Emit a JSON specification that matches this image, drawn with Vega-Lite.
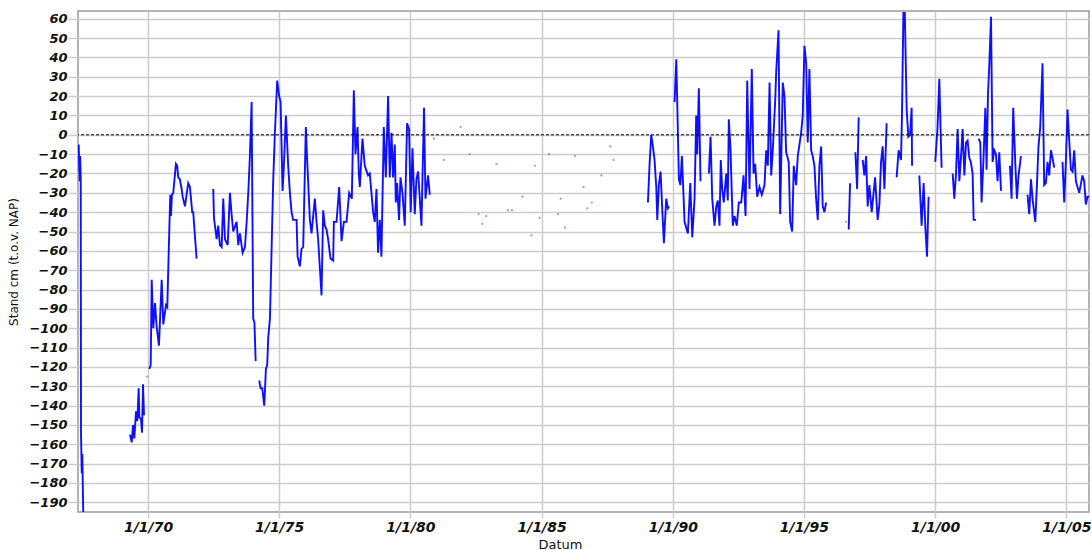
{
  "$schema": "https://vega.github.io/schema/vega-lite/v6.json",
  "width": 1011,
  "height": 501,
  "autosize": {"type": "none"},
  "padding": {"left": 78, "top": 11, "right": 3, "bottom": 38},
  "background": "white",
  "config": {
    "view": {"stroke": "#9a9a9a", "strokeWidth": 1.5},
    "axis": {
      "domain": false,
      "gridColor": "#cccccc",
      "gridWidth": 1.5,
      "tickColor": "#cccccc",
      "tickWidth": 1.5,
      "labelFont": "DejaVu Sans",
      "labelFontWeight": "bold",
      "labelFontStyle": "italic",
      "labelColor": "#111111",
      "titleFont": "DejaVu Sans",
      "titleFontWeight": "normal",
      "titleColor": "#111111"
    }
  },
  "data": {"values": [
    {"d":"1967-05-12","v":-5,"s":1},{"d":"1967-05-20","v":-18,"s":1},{"d":"1967-05-26","v":-24,"s":1},{"d":"1967-05-31","v":-11,"s":1},{"d":"1967-06-09","v":-22,"s":1},{"d":"1967-06-13","v":-155,"s":1},{"d":"1967-06-23","v":-175,"s":1},{"d":"1967-07-01","v":-165,"s":1},{"d":"1967-07-18","v":-205,"s":1},
    {"d":"1969-04-25","v":-155,"s":2},{"d":"1969-05-19","v":-159,"s":2},{"d":"1969-06-06","v":-150,"s":2},{"d":"1969-06-24","v":-157,"s":2},{"d":"1969-07-18","v":-143,"s":2},{"d":"1969-08-05","v":-148,"s":2},{"d":"1969-08-24","v":-131,"s":2},{"d":"1969-09-02","v":-146,"s":2},{"d":"1969-09-25","v":-147,"s":2},{"d":"1969-10-09","v":-154,"s":2},{"d":"1969-10-23","v":-129,"s":2},{"d":"1969-11-06","v":-145,"s":2},
    {"d":"1969-12-21","v":-125,"s":0},
    {"d":"1970-01-19","v":-121,"s":3},{"d":"1970-02-07","v":-119,"s":3},{"d":"1970-02-21","v":-75,"s":3},{"d":"1970-03-15","v":-100,"s":3},{"d":"1970-04-08","v":-87,"s":3},{"d":"1970-05-01","v":-99,"s":3},{"d":"1970-06-02","v":-109,"s":3},{"d":"1970-07-10","v":-75,"s":3},{"d":"1970-08-01","v":-98,"s":3},{"d":"1970-09-08","v":-88,"s":3},{"d":"1970-09-26","v":-89,"s":3},{"d":"1970-10-27","v":-45,"s":3},{"d":"1970-11-07","v":-31,"s":3},{"d":"1970-11-16","v":-42,"s":3},{"d":"1970-11-30","v":-31,"s":3},{"d":"1970-12-18","v":-30,"s":3},{"d":"1971-01-24","v":-15,"s":3},{"d":"1971-02-11","v":-16,"s":3},{"d":"1971-02-25","v":-22,"s":3},{"d":"1971-03-20","v":-23,"s":3},{"d":"1971-04-14","v":-28,"s":3},{"d":"1971-04-28","v":-32,"s":3},{"d":"1971-05-30","v":-37,"s":3},{"d":"1971-07-14","v":-25,"s":3},{"d":"1971-08-07","v":-27,"s":3},{"d":"1971-09-08","v":-40,"s":3},{"d":"1971-09-22","v":-40,"s":3},{"d":"1971-11-08","v":-64,"s":3},
    {"d":"1972-06-27","v":-28,"s":4},{"d":"1972-07-07","v":-43,"s":4},{"d":"1972-08-13","v":-54,"s":4},{"d":"1972-09-04","v":-47,"s":4},{"d":"1972-09-28","v":-57,"s":4},{"d":"1972-10-22","v":-58,"s":4},{"d":"1972-11-13","v":-33,"s":4},{"d":"1972-12-07","v":-54,"s":4},{"d":"1973-01-14","v":-57,"s":4},{"d":"1973-02-14","v":-30,"s":4},{"d":"1973-03-09","v":-41,"s":4},{"d":"1973-04-01","v":-50,"s":4},{"d":"1973-05-18","v":-45,"s":4},{"d":"1973-06-10","v":-57,"s":4},{"d":"1973-07-03","v":-51,"s":4},{"d":"1973-08-10","v":-61,"s":4},{"d":"1973-09-11","v":-58,"s":4},{"d":"1973-10-05","v":-45,"s":4},{"d":"1973-10-30","v":-28,"s":4},{"d":"1973-11-19","v":-11,"s":4},{"d":"1973-12-13","v":17,"s":4},{"d":"1974-01-04","v":-95,"s":4},{"d":"1974-01-21","v":-97,"s":4},{"d":"1974-02-07","v":-117,"s":4},
    {"d":"1974-03-29","v":-127,"s":5},{"d":"1974-04-17","v":-131,"s":5},{"d":"1974-05-10","v":-131,"s":5},{"d":"1974-06-07","v":-140,"s":5},{"d":"1974-06-30","v":-121,"s":5},{"d":"1974-07-18","v":-119,"s":5},{"d":"1974-08-01","v":-105,"s":5},{"d":"1974-08-25","v":-95,"s":5},{"d":"1974-10-10","v":-23,"s":5},{"d":"1974-11-02","v":1,"s":5},{"d":"1974-12-04","v":28,"s":5},{"d":"1975-01-01","v":20,"s":5},{"d":"1975-01-20","v":17,"s":5},{"d":"1975-02-17","v":-29,"s":5},{"d":"1975-03-07","v":-16,"s":5},{"d":"1975-04-04","v":10,"s":5},{"d":"1975-05-06","v":-16,"s":5},{"d":"1975-05-30","v":-30,"s":5},{"d":"1975-06-22","v":-40,"s":5},{"d":"1975-07-14","v":-44,"s":5},{"d":"1975-08-31","v":-44,"s":5},{"d":"1975-09-14","v":-63,"s":5},{"d":"1975-10-16","v":-68,"s":5},{"d":"1975-11-08","v":-59,"s":5},{"d":"1975-12-01","v":-58,"s":5},{"d":"1976-01-07","v":4,"s":5},{"d":"1976-01-25","v":-13,"s":5},{"d":"1976-02-08","v":-24,"s":5},{"d":"1976-03-03","v":-44,"s":5},{"d":"1976-03-26","v":-51,"s":5},{"d":"1976-05-11","v":-33,"s":5},{"d":"1976-06-04","v":-45,"s":5},{"d":"1976-06-26","v":-54,"s":5},{"d":"1976-08-12","v":-83,"s":5},{"d":"1976-09-04","v":-39,"s":5},{"d":"1976-09-27","v":-47,"s":5},{"d":"1976-10-21","v":-49,"s":5},{"d":"1976-11-12","v":-54,"s":5},{"d":"1976-12-15","v":-64,"s":5},{"d":"1977-01-21","v":-65,"s":5},{"d":"1977-01-31","v":-45,"s":5},{"d":"1977-03-09","v":-45,"s":5},{"d":"1977-04-15","v":-27,"s":5},{"d":"1977-05-18","v":-55,"s":5},{"d":"1977-06-19","v":-45,"s":5},{"d":"1977-07-26","v":-45,"s":5},{"d":"1977-09-01","v":-30,"s":5},{"d":"1977-10-08","v":-33,"s":5},{"d":"1977-11-05","v":23,"s":5},{"d":"1977-11-28","v":-10,"s":5},{"d":"1977-12-26","v":4,"s":5},{"d":"1978-01-13","v":-20,"s":5},{"d":"1978-01-27","v":-27,"s":5},{"d":"1978-03-05","v":-2,"s":5},{"d":"1978-04-06","v":-16,"s":5},{"d":"1978-05-22","v":-21,"s":5},{"d":"1978-06-15","v":-20,"s":5},{"d":"1978-07-08","v":-30,"s":5},{"d":"1978-07-31","v":-40,"s":5},{"d":"1978-08-23","v":-45,"s":5},{"d":"1978-09-16","v":-28,"s":5},{"d":"1978-10-08","v":-61,"s":5},{"d":"1978-11-01","v":-44,"s":5},{"d":"1978-11-24","v":-63,"s":5},{"d":"1978-12-27","v":4,"s":5},{"d":"1979-01-24","v":-22,"s":5},{"d":"1979-02-25","v":20,"s":5},{"d":"1979-03-20","v":-22,"s":5},{"d":"1979-04-13","v":1,"s":5},{"d":"1979-05-05","v":-22,"s":5},{"d":"1979-05-29","v":-5,"s":5},{"d":"1979-06-12","v":-35,"s":5},{"d":"1979-06-30","v":-25,"s":5},{"d":"1979-07-27","v":-44,"s":5},{"d":"1979-08-16","v":-22,"s":5},{"d":"1979-09-13","v":-30,"s":5},{"d":"1979-10-15","v":-47,"s":5},{"d":"1979-11-16","v":6,"s":5},{"d":"1979-12-14","v":3,"s":5},{"d":"1980-01-06","v":-40,"s":5},{"d":"1980-01-30","v":-7,"s":5},{"d":"1980-03-02","v":-41,"s":5},{"d":"1980-03-25","v":-23,"s":5},{"d":"1980-04-17","v":-19,"s":5},{"d":"1980-05-11","v":-33,"s":5},{"d":"1980-06-03","v":-47,"s":5},{"d":"1980-07-09","v":14,"s":5},{"d":"1980-07-29","v":-33,"s":5},{"d":"1980-09-03","v":-21,"s":5},{"d":"1980-09-27","v":-31,"s":5},
    {"d":"1980-11-25","v":-2,"s":0},{"d":"1981-04-10","v":-13,"s":0},{"d":"1981-12-02","v":4,"s":0},{"d":"1982-04-05","v":-10,"s":0},{"d":"1982-08-09","v":-41,"s":0},{"d":"1982-09-29","v":-46,"s":0},{"d":"1982-11-24","v":-42,"s":0},{"d":"1983-04-13","v":-15,"s":0},{"d":"1983-09-21","v":-39,"s":0},{"d":"1983-11-15","v":-39,"s":0},{"d":"1984-04-08","v":-32,"s":0},{"d":"1984-08-12","v":-52,"s":0},{"d":"1984-10-01","v":-16,"s":0},{"d":"1984-12-05","v":-43,"s":0},{"d":"1985-04-13","v":-10,"s":0},{"d":"1985-08-17","v":-41,"s":0},{"d":"1985-09-24","v":-33,"s":0},{"d":"1985-11-22","v":-48,"s":0},{"d":"1986-04-10","v":-11,"s":0},{"d":"1986-08-08","v":-27,"s":0},{"d":"1986-09-28","v":-38,"s":0},{"d":"1986-12-01","v":-35,"s":0},{"d":"1987-04-12","v":-21,"s":0},{"d":"1987-08-15","v":-6,"s":0},{"d":"1987-09-29","v":-13,"s":0},
    {"d":"1989-01-20","v":-35,"s":6},{"d":"1989-02-12","v":-15,"s":6},{"d":"1989-03-07","v":0,"s":6},{"d":"1989-03-30","v":-6,"s":6},{"d":"1989-04-22","v":-13,"s":6},{"d":"1989-05-16","v":-27,"s":6},{"d":"1989-05-30","v":-44,"s":6},{"d":"1989-06-21","v":-26,"s":6},{"d":"1989-07-15","v":-19,"s":6},{"d":"1989-08-08","v":-39,"s":6},{"d":"1989-08-30","v":-56,"s":6},{"d":"1989-10-02","v":-33,"s":6},{"d":"1989-10-25","v":-38,"s":6},{"d":"1989-11-10","v":-37,"s":6},
    {"d":"1990-01-26","v":17,"s":7},{"d":"1990-02-19","v":39,"s":7},{"d":"1990-03-02","v":20,"s":7},{"d":"1990-03-27","v":-23,"s":7},{"d":"1990-04-16","v":-26,"s":7},{"d":"1990-05-08","v":-11,"s":7},{"d":"1990-06-14","v":-45,"s":7},{"d":"1990-07-30","v":-51,"s":7},{"d":"1990-09-01","v":-25,"s":7},{"d":"1990-09-29","v":-53,"s":7},{"d":"1990-10-31","v":-33,"s":7},{"d":"1990-11-23","v":10,"s":7},{"d":"1990-12-07","v":-10,"s":7},{"d":"1990-12-30","v":24,"s":7},{"d":"1991-01-22","v":-24,"s":7},
    {"d":"1991-05-18","v":-20,"s":8},{"d":"1991-06-11","v":-1,"s":8},{"d":"1991-07-04","v":-33,"s":8},{"d":"1991-08-05","v":-47,"s":8},{"d":"1991-08-29","v":-37,"s":8},{"d":"1991-09-20","v":-34,"s":8},{"d":"1991-10-13","v":-47,"s":8},{"d":"1991-10-31","v":-13,"s":8},{"d":"1991-11-20","v":-28,"s":8},{"d":"1991-12-12","v":-35,"s":8},{"d":"1992-01-15","v":-20,"s":8},{"d":"1992-02-06","v":-34,"s":8},{"d":"1992-02-20","v":8,"s":8},{"d":"1992-03-14","v":-7,"s":8},{"d":"1992-04-15","v":-47,"s":8},{"d":"1992-05-09","v":-42,"s":8},{"d":"1992-06-10","v":-47,"s":8},{"d":"1992-07-08","v":-35,"s":8},{"d":"1992-08-11","v":-35,"s":8},{"d":"1992-09-12","v":-21,"s":8},{"d":"1992-10-10","v":-42,"s":8},{"d":"1992-11-02","v":28,"s":8},{"d":"1992-12-04","v":-28,"s":8},{"d":"1993-01-05","v":34,"s":8},{"d":"1993-01-29","v":-20,"s":8},{"d":"1993-02-21","v":-15,"s":8},{"d":"1993-03-21","v":-32,"s":8},{"d":"1993-04-22","v":-27,"s":8},{"d":"1993-05-24","v":-31,"s":8},{"d":"1993-07-01","v":-26,"s":8},{"d":"1993-07-24","v":-8,"s":8},{"d":"1993-08-16","v":-16,"s":8},{"d":"1993-09-09","v":27,"s":8},{"d":"1993-10-02","v":-21,"s":8},{"d":"1993-10-24","v":-8,"s":8},{"d":"1993-11-27","v":18,"s":8},{"d":"1993-12-11","v":33,"s":8},{"d":"1994-01-12","v":54,"s":8},{"d":"1994-02-04","v":-41,"s":8},{"d":"1994-03-12","v":27,"s":8},{"d":"1994-04-05","v":20,"s":8},{"d":"1994-04-28","v":-9,"s":8},{"d":"1994-06-03","v":-14,"s":8},{"d":"1994-06-23","v":-45,"s":8},{"d":"1994-07-21","v":-50,"s":8},{"d":"1994-08-12","v":-16,"s":8},{"d":"1994-09-14","v":-26,"s":8},{"d":"1994-10-07","v":-11,"s":8},{"d":"1994-11-23","v":1,"s":8},{"d":"1994-12-15","v":10,"s":8},{"d":"1995-01-08","v":46,"s":8},{"d":"1995-02-01","v":37,"s":8},{"d":"1995-02-23","v":-4,"s":8},{"d":"1995-03-18","v":34,"s":8},{"d":"1995-04-11","v":-8,"s":8},{"d":"1995-05-03","v":-11,"s":8},{"d":"1995-05-27","v":-16,"s":8},{"d":"1995-06-19","v":-33,"s":8},{"d":"1995-07-12","v":-44,"s":8},{"d":"1995-08-04","v":-16,"s":8},{"d":"1995-08-28","v":-6,"s":8},{"d":"1995-09-19","v":-37,"s":8},{"d":"1995-10-13","v":-40,"s":8},{"d":"1995-11-05","v":-35,"s":8},
    {"d":"1996-08-10","v":-45,"s":0},
    {"d":"1996-09-15","v":-49,"s":9},{"d":"1996-10-04","v":-25,"s":9},
    {"d":"1996-12-17","v":-9,"s":10},{"d":"1997-01-10","v":-28,"s":10},{"d":"1997-02-01","v":9,"s":10},
    {"d":"1997-03-28","v":-13,"s":11},{"d":"1997-04-21","v":-21,"s":11},{"d":"1997-05-15","v":-11,"s":11},{"d":"1997-06-06","v":-37,"s":11},{"d":"1997-06-30","v":-26,"s":11},{"d":"1997-08-01","v":-40,"s":11},{"d":"1997-09-17","v":-22,"s":11},{"d":"1997-10-23","v":-44,"s":11},{"d":"1997-11-16","v":-36,"s":11},{"d":"1997-12-09","v":-14,"s":11},{"d":"1998-01-01","v":-6,"s":11},{"d":"1998-01-25","v":-28,"s":11},{"d":"1998-02-25","v":6,"s":11},
    {"d":"1998-07-14","v":-22,"s":12},{"d":"1998-08-11","v":-8,"s":12},{"d":"1998-09-13","v":-13,"s":12},{"d":"1998-09-27","v":11,"s":12},{"d":"1998-10-16","v":63,"s":12},{"d":"1998-11-05","v":63,"s":12},{"d":"1998-12-01","v":13,"s":12},{"d":"1998-12-24","v":-1,"s":12},{"d":"1999-01-17","v":0,"s":12},{"d":"1999-02-08","v":14,"s":12},{"d":"1999-02-14","v":-16,"s":12},
    {"d":"1999-05-26","v":-21,"s":13},{"d":"1999-06-27","v":-47,"s":13},{"d":"1999-07-25","v":-25,"s":13},{"d":"1999-08-18","v":-48,"s":13},{"d":"1999-09-10","v":-63,"s":13},{"d":"1999-10-02","v":-32,"s":13},
    {"d":"2000-01-03","v":-14,"s":14},{"d":"2000-02-04","v":4,"s":14},{"d":"2000-02-28","v":29,"s":14},{"d":"2000-03-31","v":-17,"s":14},
    {"d":"2000-09-01","v":-20,"s":15},{"d":"2000-09-24","v":-33,"s":15},{"d":"2000-10-18","v":-20,"s":15},{"d":"2000-11-09","v":3,"s":15},{"d":"2000-12-03","v":-24,"s":15},{"d":"2000-12-27","v":-11,"s":15},{"d":"2001-01-18","v":3,"s":15},{"d":"2001-02-11","v":-21,"s":15},{"d":"2001-03-06","v":-4,"s":15},{"d":"2001-03-28","v":-3,"s":15},{"d":"2001-04-21","v":-12,"s":15},{"d":"2001-05-12","v":-14,"s":15},{"d":"2001-06-06","v":-20,"s":15},{"d":"2001-06-20","v":-44,"s":15},{"d":"2001-07-23","v":-44,"s":15},
    {"d":"2001-08-29","v":-2,"s":16},{"d":"2001-09-21","v":-4,"s":16},{"d":"2001-10-09","v":-35,"s":16},{"d":"2001-11-06","v":-11,"s":16},{"d":"2001-11-30","v":14,"s":16},{"d":"2001-12-17","v":-18,"s":16},{"d":"2002-01-06","v":21,"s":16},{"d":"2002-01-24","v":36,"s":16},{"d":"2002-02-17","v":61,"s":16},{"d":"2002-03-11","v":-14,"s":16},{"d":"2002-04-04","v":-8,"s":16},{"d":"2002-04-27","v":-10,"s":16},{"d":"2002-05-19","v":-24,"s":16},{"d":"2002-06-12","v":-9,"s":16},{"d":"2002-07-06","v":-29,"s":16},
    {"d":"2002-11-08","v":-16,"s":17},{"d":"2002-11-30","v":-33,"s":17},{"d":"2002-12-23","v":14,"s":17},{"d":"2003-01-21","v":-15,"s":17},{"d":"2003-02-13","v":-33,"s":17},{"d":"2003-03-07","v":-21,"s":17},{"d":"2003-04-10","v":-11,"s":17},
    {"d":"2003-07-10","v":-31,"s":18},{"d":"2003-08-03","v":-41,"s":18},{"d":"2003-08-27","v":-23,"s":18},{"d":"2003-09-18","v":-33,"s":18},{"d":"2003-10-26","v":-45,"s":18},{"d":"2003-11-18","v":-26,"s":18},{"d":"2003-12-10","v":-6,"s":18},{"d":"2004-01-03","v":4,"s":18},{"d":"2004-02-04","v":37,"s":18},{"d":"2004-02-27","v":-26,"s":18},{"d":"2004-03-22","v":-25,"s":18},{"d":"2004-04-14","v":-14,"s":18},{"d":"2004-05-07","v":-21,"s":18},{"d":"2004-05-31","v":-8,"s":18},{"d":"2004-06-22","v":-12,"s":18},{"d":"2004-07-16","v":-17,"s":18},
    {"d":"2004-11-08","v":-14,"s":19},{"d":"2004-12-02","v":-35,"s":19},{"d":"2004-12-26","v":-13,"s":19},{"d":"2005-01-17","v":13,"s":19},{"d":"2005-02-10","v":-3,"s":19},{"d":"2005-03-05","v":-18,"s":19},{"d":"2005-03-28","v":-19,"s":19},{"d":"2005-04-20","v":-8,"s":19},{"d":"2005-05-14","v":-24,"s":19},{"d":"2005-06-05","v":-27,"s":19},{"d":"2005-06-29","v":-30,"s":19},{"d":"2005-08-13","v":-21,"s":19},{"d":"2005-09-06","v":-24,"s":19},{"d":"2005-09-29","v":-36,"s":19},{"d":"2005-10-22","v":-32,"s":19},{"d":"2005-11-15","v":-32,"s":19}
  ]},
  "encoding": {
    "x": {
      "field": "d", "type": "temporal",
      "scale": {"domain": [{"year": 1967, "month": 5, "date": 2}, {"year": 2005, "month": 11, "date": 12}]},
      "axis": {
        "title": "Datum",
        "values": [{"year":1970,"month":1,"date":1},{"year":1975,"month":1,"date":1},{"year":1980,"month":1,"date":1},{"year":1985,"month":1,"date":1},{"year":1990,"month":1,"date":1},{"year":1995,"month":1,"date":1},{"year":2000,"month":1,"date":1},{"year":2005,"month":1,"date":1}],
        "format": "%-m/%-d/%y",
        "labelFontSize": 14,
        "tickSize": 6,
        "labelPadding": 2,
        "labelFlush": false,
        "titleFontSize": 13,
        "titleX": 482,
        "titleY": 32,
        "titleBaseline": "middle"
      }
    },
    "y": {
      "field": "v", "type": "quantitative",
      "scale": {"domain": [-195, 64], "nice": false, "zero": false},
      "axis": {
        "title": "Stand cm (t.o.v. NAP)",
        "values": [-190,-180,-170,-160,-150,-140,-130,-120,-110,-100,-90,-80,-70,-60,-50,-40,-30,-20,-10,0,10,20,30,40,50,60],
        "labelFontSize": 13,
        "tickSize": 10,
        "labelPadding": 1,
        "titleFontSize": 12,
        "titlePadding": 8
      }
    }
  },
  "layer": [
    {
      "transform": [{"filter": "datum.s > 0"}],
      "mark": {"type": "line", "color": "#0f0fff", "strokeWidth": 1.9, "clip": true},
      "encoding": {"detail": {"field": "s", "type": "nominal"}}
    },
    {
      "transform": [{"filter": "datum.s == 0"}],
      "mark": {"type": "circle", "color": "#6a6aff", "size": 5, "opacity": 0.7, "clip": true}
    },
    {
      "data": {"values": [{"ref": 0, "label": "NAP"}]},
      "mark": {"type": "rule", "color": "#000000", "strokeWidth": 1, "strokeDash": [3, 2]},
      "encoding": {"y": {"field": "ref", "type": "quantitative"}, "x": null}
    },
    {
      "data": {"values": [{"ref": 0, "label": "NAP"}]},
      "mark": {"type": "text", "align": "right", "baseline": "bottom", "dy": -3, "font": "DejaVu Sans", "fontSize": 12, "color": "#333333"},
      "encoding": {
        "y": {"field": "ref", "type": "quantitative"},
        "x": {"datum": {"year": 2005, "month": 9, "date": 15}, "type": "temporal"},
        "text": {"field": "label"}
      }
    }
  ]
}
